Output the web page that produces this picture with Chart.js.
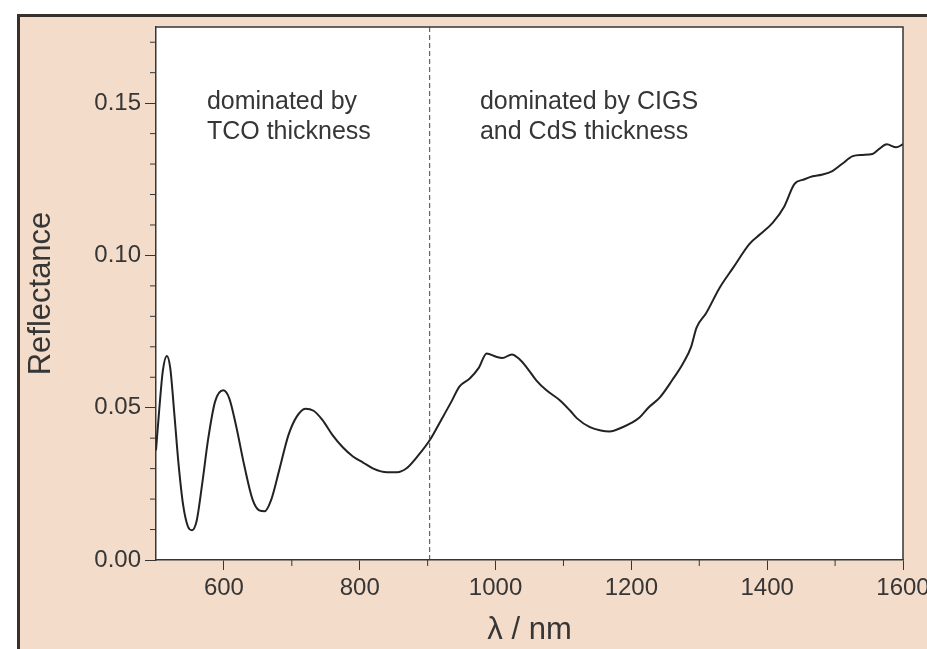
<!DOCTYPE html>
<html>
<head>
<meta charset="utf-8">
<script src="https://cdn.jsdelivr.net/npm/chart.js@4.4.1/dist/chart.umd.min.js"></script>
<style>
html, body { margin: 0; padding: 0; background: #fff; }
canvas { display: block; }
</style>
</head>
<body>
<canvas id="cvs" width="927" height="649"></canvas>
<script>
const wavelength = [
    500, 505, 510, 516, 521, 527, 533, 540, 547, 553,
    560, 568, 577, 587, 599, 608, 618, 630, 642, 652,
    660, 670, 682, 695, 707, 720, 732, 745, 760, 775,
    790, 805, 820, 840, 855, 869, 885, 903, 920, 935,
    947, 962, 975, 987, 1000, 1010, 1024, 1035, 1046, 1060,
    1075, 1095, 1110, 1120, 1139, 1155, 1168, 1187, 1200, 1212,
    1225, 1242, 1260, 1276, 1288, 1296, 1310, 1330, 1350, 1374,
    1390, 1408, 1425, 1440, 1455, 1467, 1480, 1496, 1510, 1526,
    1540, 1555, 1565, 1576, 1590, 1600
];
const reflectance = [
    0.036, 0.050, 0.062, 0.067, 0.063, 0.048, 0.032, 0.018, 0.011, 0.0098,
    0.013, 0.025, 0.040, 0.052, 0.0557, 0.053, 0.044, 0.031, 0.020, 0.0163,
    0.016, 0.020, 0.030, 0.041, 0.047, 0.0497, 0.049, 0.046, 0.041, 0.037,
    0.034, 0.032, 0.030, 0.0288, 0.0288, 0.0301, 0.034, 0.0393, 0.046, 0.052,
    0.057, 0.0596, 0.063, 0.0678, 0.0668, 0.0663, 0.0675, 0.066, 0.0632, 0.059,
    0.0557, 0.0524, 0.049, 0.0465, 0.0436, 0.0425, 0.0422, 0.0436, 0.045, 0.0468,
    0.050, 0.0534, 0.059, 0.0645, 0.070, 0.0763, 0.081, 0.0894, 0.096, 0.1038,
    0.107, 0.1107, 0.116, 0.1234, 0.125, 0.126, 0.1265, 0.1277, 0.130, 0.1326,
    0.133, 0.1333, 0.135, 0.1365, 0.1355, 0.1365
];

const xTicks = [600, 800, 1000, 1200, 1400, 1600];
const xMinorTicks = [700, 900, 1100, 1300, 1500];
const yTicks = [0, 0.05, 0.10, 0.15];
const yMinorTicks = [0.01, 0.02, 0.03, 0.04, 0.06, 0.07, 0.08, 0.09, 0.11, 0.12, 0.13, 0.14, 0.16, 0.17];

const boundaryWavelength = 903;
const notes = [
    { x: 575, y: 0.148, lines: ['dominated by', 'TCO thickness'] },
    { x: 977, y: 0.148, lines: ['dominated by CIGS', 'and CdS thickness'] }
];

const FONT = "'Liberation Sans', Arial, sans-serif";
const INK = '#363636';
const PEACH = '#f3dcc9';

const decor = {
    id: 'decor',
    beforeDraw(chart) {
        const ctx = chart.ctx;
        const a = chart.chartArea;
        ctx.save();
        ctx.fillStyle = '#fff';
        ctx.fillRect(0, 0, chart.width, chart.height);
        ctx.fillStyle = PEACH;
        ctx.fillRect(17, 15, chart.width - 17, chart.height - 15);
        ctx.fillStyle = '#3a302a';
        ctx.fillRect(17, 14, chart.width - 17, 3);
        ctx.fillRect(17, 14, 3, chart.height - 14);
        ctx.fillStyle = '#fff';
        ctx.fillRect(a.left, a.top, a.right - a.left, a.bottom - a.top);
        ctx.restore();
    },
    afterDraw(chart) {
        const ctx = chart.ctx;
        const a = chart.chartArea;
        const xs = chart.scales.x, ys = chart.scales.y;
        ctx.save();
        // frame top/right
        ctx.strokeStyle = INK;
        ctx.lineWidth = 1.5;
        ctx.beginPath();
        ctx.moveTo(a.left, a.top);
        ctx.lineTo(a.right, a.top);
        ctx.lineTo(a.right, a.bottom);
        ctx.stroke();
        // minor ticks
        ctx.lineWidth = 1;
        ctx.beginPath();
        yMinorTicks.forEach(v => {
            const py = ys.getPixelForValue(v);
            ctx.moveTo(a.left - 6, py);
            ctx.lineTo(a.left, py);
        });
        xMinorTicks.forEach(v => {
            const px = xs.getPixelForValue(v);
            ctx.moveTo(px, a.bottom);
            ctx.lineTo(px, a.bottom + 6);
        });
        ctx.stroke();
        // region boundary
        const bx = xs.getPixelForValue(boundaryWavelength);
        ctx.setLineDash([5, 3]);
        ctx.strokeStyle = '#444';
        ctx.beginPath();
        ctx.moveTo(bx, a.top);
        ctx.lineTo(bx, a.bottom);
        ctx.stroke();
        ctx.setLineDash([]);
        // notes
        ctx.fillStyle = INK;
        ctx.font = '25px ' + FONT;
        ctx.textAlign = 'left';
        ctx.textBaseline = 'alphabetic';
        notes.forEach(n => {
            const px = xs.getPixelForValue(n.x);
            const py = ys.getPixelForValue(n.y);
            n.lines.forEach((t, i) => ctx.fillText(t, px, py + i * 30));
        });
        ctx.restore();
    }
};

new Chart(document.getElementById('cvs'), {
    type: 'line',
    data: {
        datasets: [{
            data: wavelength.map((w, i) => ({ x: w, y: reflectance[i] })),
            borderColor: '#222',
            borderWidth: 2,
            pointRadius: 0,
            cubicInterpolationMode: 'monotone',
            fill: false
        }]
    },
    options: {
        responsive: false,
        animation: false,
        layout: { padding: { top: 27, right: 24, left: 0, bottom: 0 } },
        plugins: { legend: { display: false }, tooltip: { enabled: false } },
        scales: {
            x: {
                type: 'linear',
                min: 500,
                max: 1600,
                afterBuildTicks: s => { s.ticks = xTicks.map(v => ({ value: v })); },
                afterFit: s => { s.height = 89; s.paddingLeft = 0; s.paddingRight = 0; },
                grid: { drawOnChartArea: false, drawTicks: true, tickLength: 10, tickColor: INK },
                border: { display: true, color: INK, width: 1.5 },
                ticks: { color: INK, font: { family: FONT, size: 24 }, padding: 4, maxRotation: 0, callback: v => String(v) },
                title: { display: true, text: 'λ / nm', color: INK, font: { family: FONT, size: 31 }, padding: { top: 0, bottom: 0 } }
            },
            y: {
                min: 0,
                max: 0.175,
                afterBuildTicks: s => { s.ticks = yTicks.map(v => ({ value: v })); },
                afterFit: s => { s.width = 156; s.paddingTop = 0; s.paddingBottom = 0; },
                grid: { drawOnChartArea: false, drawTicks: true, tickLength: 11, tickColor: INK },
                border: { display: true, color: INK, width: 1.5 },
                ticks: { color: INK, font: { family: FONT, size: 24 }, padding: 4, callback: v => v.toFixed(2) },
                title: { display: true, text: 'Reflectance', color: INK, font: { family: FONT, size: 31 }, padding: { top: 23, bottom: 0 } }
            }
        }
    },
    plugins: [decor]
});
</script>
</body>
</html>
